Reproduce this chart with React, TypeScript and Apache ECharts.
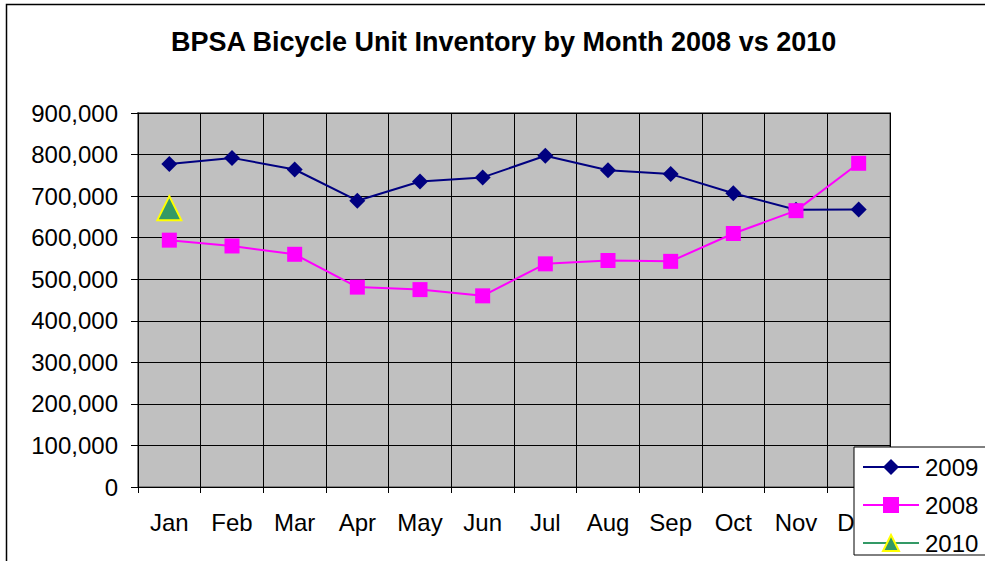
import React, { useEffect, useRef } from "react";
import * as echarts from "echarts";

const months = ["Jan", "Feb", "Mar", "Apr", "May", "Jun", "Jul", "Aug", "Sep", "Oct", "Nov", "Dec"];
const values2009 = [777000, 792000, 764000, 689000, 735000, 745000, 797000, 762000, 753000, 707000, 667000, 668000];
const values2008 = [594000, 580000, 560000, 481000, 475000, 460000, 537000, 545000, 543000, 610000, 665000, 779000];
const values2010 = [671000, null, null, null, null, null, null, null, null, null, null, null];
const yTicks = { min: 0, max: 900000, interval: 100000 };

export default function App() {
  const ref = useRef<HTMLDivElement>(null);
  useEffect(() => {
    const chart = echarts.init(ref.current!, null, { renderer: "svg" });
    const font = "'Liberation Sans', Arial, sans-serif";
    chart.setOption({
      animation: false,
      backgroundColor: "#ffffff",
      textStyle: { fontFamily: font },
      title: {
        text: "BPSA Bicycle Unit Inventory by Month 2008 vs 2010",
        left: 166,
        top: 23,
        textStyle: { fontFamily: font, fontSize: 27, fontWeight: "bold", color: "#000" },
      },
      graphic: [
        {
          type: "rect",
          shape: { x: 6.5, y: 4.5, width: 1100, height: 700 },
          style: { fill: "none", stroke: "#000", lineWidth: 1.5 },
          silent: true,
          z: 100,
        },
      ],
      grid: {
        left: 138,
        right: 95,
        top: 113,
        bottom: 74,
        show: true,
        backgroundColor: "#c0c0c0",
        borderColor: "#808080",
        borderWidth: 2,
      },
      legend: {
        orient: "vertical",
        left: 854,
        top: 447,
        z: 100,
        backgroundColor: "#ffffff",
        borderColor: "#000",
        borderWidth: 1,
        padding: [8, 40, 0, 8],
        itemGap: 14,
        itemWidth: 56,
        itemHeight: 20,
        textStyle: { fontFamily: font, fontSize: 24, lineHeight: 24, color: "#000", padding: [0, 0, 0, 1] },
        data: ["2009", "2008", "2010"],
      },
      xAxis: {
        type: "category",
        data: months,
        boundaryGap: true,
        axisLine: { lineStyle: { color: "#000", width: 1 } },
        axisTick: { show: true, length: 6, inside: false, lineStyle: { color: "#000" } },
        axisLabel: { fontFamily: font, fontSize: 24, color: "#000", margin: 23 },
        splitLine: { show: true, lineStyle: { color: "#000", width: 1 } },
      },
      yAxis: {
        type: "value",
        min: yTicks.min,
        max: yTicks.max,
        interval: yTicks.interval,
        axisLine: { show: true, lineStyle: { color: "#000", width: 1 } },
        axisTick: { show: true, length: 7, lineStyle: { color: "#000" } },
        axisLabel: {
          fontFamily: font,
          fontSize: 24,
          color: "#000",
          margin: 20,
          formatter: (v: number) => v.toLocaleString("en-US"),
        },
        splitLine: { show: true, lineStyle: { color: "#000", width: 1 } },
      },
      series: [
        {
          name: "2009",
          type: "line",
          data: values2009,
          symbol: "diamond",
          symbolSize: 16,
          lineStyle: { color: "#000080", width: 2 },
          itemStyle: { color: "#000080" },
        },
        {
          name: "2008",
          type: "line",
          data: values2008,
          symbol: "rect",
          symbolSize: 15,
          lineStyle: { color: "#ff00ff", width: 2 },
          itemStyle: { color: "#ff00ff" },
        },
        {
          name: "2010",
          type: "line",
          data: values2010,
          symbol: "triangle",
          symbolSize: 24,
          lineStyle: { color: "#339966", width: 2 },
          itemStyle: { color: "#339966", borderColor: "#ffff00", borderWidth: 2 },
        },
      ],
    });
    return () => chart.dispose();
  }, []);
  return (
    <div
      ref={ref}
      style={{ position: "fixed", left: 0, top: 0, width: 985, height: 561 }}
    />
  );
}
